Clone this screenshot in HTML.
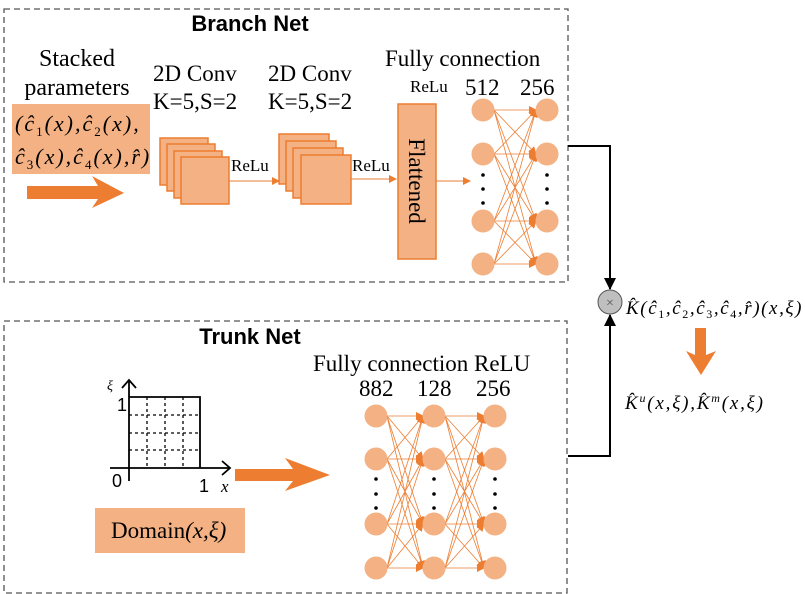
<!DOCTYPE html>
<html><head><meta charset="utf-8"><style>
html,body{margin:0;padding:0;background:#fff;width:805px;height:594px;overflow:hidden}
svg text{font-family:"Liberation Serif",serif;fill:#000}
.b{font-family:"Liberation Sans",sans-serif;font-weight:bold}
.i{font-style:italic}
</style></head><body>
<svg width="805" height="594" viewBox="0 0 805 594" xmlns="http://www.w3.org/2000/svg">
<defs>
<marker id="oa" markerWidth="8" markerHeight="8" refX="7" refY="4" orient="auto" markerUnits="userSpaceOnUse"><path d="M0,0 L8,4 L0,8 Z" fill="#ED7D31"/></marker>
<marker id="ka" markerWidth="12" markerHeight="12" refX="11" refY="6" orient="auto" markerUnits="userSpaceOnUse"><path d="M0,0 L12,6 L0,12 Z" fill="#000"/></marker>
</defs>
<rect x="4" y="9" width="564" height="273" fill="none" stroke="#555" stroke-width="1.3" stroke-dasharray="6,4"/>
<rect x="4" y="321" width="563" height="272" fill="none" stroke="#555" stroke-width="1.3" stroke-dasharray="6,4"/>
<text x="250" y="31" class="b" font-size="22" text-anchor="middle">Branch Net</text>
<text x="250" y="344" class="b" font-size="22" text-anchor="middle">Trunk Net</text>
<text x="77" y="66" font-size="24" text-anchor="middle">Stacked</text>
<text x="77" y="95" font-size="24" text-anchor="middle">parameters</text>
<rect x="12" y="104" width="138" height="70" fill="#F4B183"/>
<text x="15" y="131" font-size="22" class="i" letter-spacing="2">(ĉ<tspan font-size="13" dy="5" font-style="normal">1</tspan><tspan dy="-5">(x),ĉ</tspan><tspan font-size="13" dy="5" font-style="normal">2</tspan><tspan dy="-5">(x),</tspan></text>
<text x="15" y="164" font-size="22" class="i" letter-spacing="2">ĉ<tspan font-size="13" dy="5" font-style="normal">3</tspan><tspan dy="-5">(x),ĉ</tspan><tspan font-size="13" dy="5" font-style="normal">4</tspan><tspan dy="-5">(x),r̂)</tspan></text>
<path d="M27,186 L98,186 L92,176 L124,193 L92,208 L98,199 L27,199 Z" fill="#ED7D31"/>
<text x="153" y="81" font-size="23">2D Conv</text>
<text x="153" y="109" font-size="23">K=5,S=2</text>
<g fill="#F4B183" stroke="#ED7D31" stroke-width="1.5">
<rect x="160" y="138" width="48" height="47"/><rect x="167" y="144" width="48" height="47"/><rect x="174" y="151" width="48" height="47"/><rect x="181" y="157" width="48" height="47"/>
<rect x="279" y="134" width="50" height="50"/><rect x="286" y="141" width="50" height="50"/><rect x="293" y="148" width="50" height="50"/><rect x="301" y="155" width="50" height="49"/>
</g>
<line x1="229" y1="181" x2="279" y2="181" stroke="#ED7D31" stroke-width="1" marker-end="url(#oa)"/>
<text x="231" y="171" font-size="17">ReLu</text>
<text x="268" y="81" font-size="23">2D Conv</text>
<text x="268" y="109" font-size="23">K=5,S=2</text>
<line x1="351" y1="179" x2="396" y2="179" stroke="#ED7D31" stroke-width="1" marker-end="url(#oa)"/>
<text x="352" y="171" font-size="17">ReLu</text>
<rect x="398" y="104" width="38" height="155" fill="#F4B183" stroke="#ED7D31" stroke-width="1.5"/>
<text transform="translate(409,181) rotate(90)" font-size="23" text-anchor="middle">Flattened</text>
<text x="410" y="92" font-size="17">ReLu</text>
<text x="385" y="66" font-size="23">Fully connection</text>
<text x="465" y="95" font-size="23">512</text>
<text x="520" y="95" font-size="23">256</text>
<line x1="436" y1="181" x2="470" y2="181" stroke="#ED7D31" stroke-width="1" marker-end="url(#oa)"/>
<g stroke="#ED7D31" stroke-width="0.8" marker-end="url(#oa)">
<line x1="494" y1="110" x2="536" y2="110"/><line x1="494" y1="110" x2="536" y2="154"/><line x1="494" y1="110" x2="536" y2="221"/><line x1="494" y1="110" x2="536" y2="264"/>
<line x1="494" y1="154" x2="536" y2="110"/><line x1="494" y1="154" x2="536" y2="154"/><line x1="494" y1="154" x2="536" y2="221"/><line x1="494" y1="154" x2="536" y2="264"/>
<line x1="494" y1="221" x2="536" y2="110"/><line x1="494" y1="221" x2="536" y2="154"/><line x1="494" y1="221" x2="536" y2="221"/><line x1="494" y1="221" x2="536" y2="264"/>
<line x1="494" y1="264" x2="536" y2="110"/><line x1="494" y1="264" x2="536" y2="154"/><line x1="494" y1="264" x2="536" y2="221"/><line x1="494" y1="264" x2="536" y2="264"/>
</g>
<g fill="#F4B183" stroke="#F4B183">
<circle cx="483" cy="110" r="11"/><circle cx="483" cy="154" r="11"/><circle cx="483" cy="221" r="11"/><circle cx="483" cy="264" r="11"/>
<circle cx="547" cy="110" r="11"/><circle cx="547" cy="154" r="11"/><circle cx="547" cy="221" r="11"/><circle cx="547" cy="264" r="11"/>
</g>
<g fill="#000"><circle cx="483" cy="175" r="1.8"/><circle cx="483" cy="189" r="1.8"/><circle cx="483" cy="203" r="1.8"/>
<circle cx="547" cy="175" r="1.8"/><circle cx="547" cy="189" r="1.8"/><circle cx="547" cy="203" r="1.8"/></g>
<polyline points="568,146 610,146 610,289" fill="none" stroke="#000" stroke-width="2" marker-end="url(#ka)"/>
<polyline points="568,456 610,456 610,315" fill="none" stroke="#000" stroke-width="2" marker-end="url(#ka)"/>
<circle cx="610" cy="302" r="12" fill="#bfbfbf" stroke="#555" stroke-width="1"/>
<text x="610" y="307" font-size="14" text-anchor="middle" style="fill:#555">×</text>
<text x="626" y="314" font-size="19" class="i" letter-spacing="1.6">K̂(ĉ<tspan font-size="12" dy="4" font-style="normal">1</tspan><tspan dy="-4">,ĉ</tspan><tspan font-size="12" dy="4" font-style="normal">2</tspan><tspan dy="-4">,ĉ</tspan><tspan font-size="12" dy="4" font-style="normal">3</tspan><tspan dy="-4">,ĉ</tspan><tspan font-size="12" dy="4" font-style="normal">4</tspan><tspan dy="-4">,r̂)(x,ξ)</tspan></text>
<path d="M695,328 L706,328 L706,355 L716,351 L701,375 L686,351 L695,355 Z" fill="#ED7D31"/>
<text x="625" y="409" font-size="19" class="i" letter-spacing="1.8">K̂<tspan font-size="12" dy="-7">u</tspan><tspan dy="7">(x,ξ),K̂</tspan><tspan font-size="12" dy="-7">m</tspan><tspan dy="7">(x,ξ)</tspan></text>
<g stroke="#000" stroke-width="1.3" stroke-dasharray="3,3">
<line x1="147" y1="397" x2="147" y2="468"/><line x1="165" y1="397" x2="165" y2="468"/><line x1="183" y1="397" x2="183" y2="468"/>
<line x1="129" y1="415" x2="200" y2="415"/><line x1="129" y1="433" x2="200" y2="433"/><line x1="129" y1="450" x2="200" y2="450"/>
</g>
<g stroke="#000" stroke-width="1.8" fill="none">
<line x1="129" y1="481" x2="129" y2="381"/><polyline points="122,388 129,380 136,388"/>
<line x1="110" y1="468" x2="229" y2="468"/><polyline points="222,461 230,468 222,475"/>
<polyline points="129,397 200,397 200,468"/>
</g>
<text x="107" y="390" font-size="14" class="i">ξ</text>
<text x="117" y="411" font-size="18" style="font-family:'Liberation Sans'">1</text>
<text x="112" y="487" font-size="18" style="font-family:'Liberation Sans'">0</text>
<text x="199" y="492" font-size="18" style="font-family:'Liberation Sans'">1</text>
<text x="221" y="492" font-size="17" class="i">x</text>
<rect x="95" y="508" width="150" height="45" fill="#F4B183"/>
<text x="111" y="538" font-size="23">Domain<tspan class="i">(x,ξ)</tspan></text>
<path d="M235,469 L293,469 L285,458 L330,475 L285,491 L293,481 L235,481 Z" fill="#ED7D31"/>
<text x="313" y="371" font-size="23">Fully connection ReLU</text>
<text x="359" y="396" font-size="23">882</text>
<text x="417" y="396" font-size="23">128</text>
<text x="476" y="396" font-size="23">256</text>
<g stroke="#ED7D31" stroke-width="0.8" marker-end="url(#oa)">
<line x1="387" y1="416" x2="423" y2="416"/><line x1="387" y1="416" x2="423" y2="459"/><line x1="387" y1="416" x2="423" y2="524"/><line x1="387" y1="416" x2="423" y2="568"/>
<line x1="387" y1="459" x2="423" y2="416"/><line x1="387" y1="459" x2="423" y2="459"/><line x1="387" y1="459" x2="423" y2="524"/><line x1="387" y1="459" x2="423" y2="568"/>
<line x1="387" y1="524" x2="423" y2="416"/><line x1="387" y1="524" x2="423" y2="459"/><line x1="387" y1="524" x2="423" y2="524"/><line x1="387" y1="524" x2="423" y2="568"/>
<line x1="387" y1="568" x2="423" y2="416"/><line x1="387" y1="568" x2="423" y2="459"/><line x1="387" y1="568" x2="423" y2="524"/><line x1="387" y1="568" x2="423" y2="568"/>
<line x1="445" y1="416" x2="484" y2="416"/><line x1="445" y1="416" x2="484" y2="459"/><line x1="445" y1="416" x2="484" y2="524"/><line x1="445" y1="416" x2="484" y2="568"/>
<line x1="445" y1="459" x2="484" y2="416"/><line x1="445" y1="459" x2="484" y2="459"/><line x1="445" y1="459" x2="484" y2="524"/><line x1="445" y1="459" x2="484" y2="568"/>
<line x1="445" y1="524" x2="484" y2="416"/><line x1="445" y1="524" x2="484" y2="459"/><line x1="445" y1="524" x2="484" y2="524"/><line x1="445" y1="524" x2="484" y2="568"/>
<line x1="445" y1="568" x2="484" y2="416"/><line x1="445" y1="568" x2="484" y2="459"/><line x1="445" y1="568" x2="484" y2="524"/><line x1="445" y1="568" x2="484" y2="568"/>
</g>
<g fill="#F4B183" stroke="#F4B183">
<circle cx="376" cy="416" r="11"/><circle cx="376" cy="459" r="11"/><circle cx="376" cy="524" r="11"/><circle cx="376" cy="568" r="11"/>
<circle cx="434" cy="416" r="11"/><circle cx="434" cy="459" r="11"/><circle cx="434" cy="524" r="11"/><circle cx="434" cy="568" r="11"/>
<circle cx="495" cy="416" r="11"/><circle cx="495" cy="459" r="11"/><circle cx="495" cy="524" r="11"/><circle cx="495" cy="568" r="11"/>
</g>
<g fill="#000">
<circle cx="376" cy="479" r="1.8"/><circle cx="376" cy="494" r="1.8"/><circle cx="376" cy="508" r="1.8"/>
<circle cx="434" cy="479" r="1.8"/><circle cx="434" cy="494" r="1.8"/><circle cx="434" cy="508" r="1.8"/>
<circle cx="495" cy="479" r="1.8"/><circle cx="495" cy="494" r="1.8"/><circle cx="495" cy="508" r="1.8"/>
</g>
</svg>
</body></html>
